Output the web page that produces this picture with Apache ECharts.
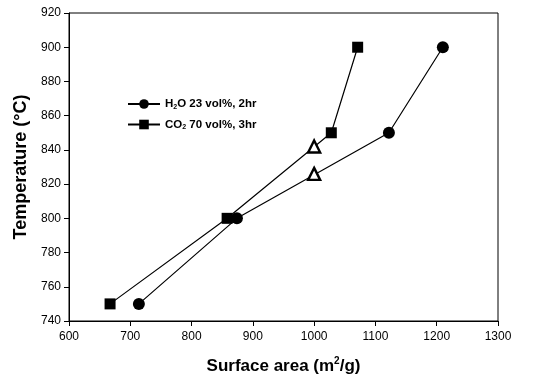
<!DOCTYPE html>
<html><head><meta charset="utf-8">
<script src="https://cdn.jsdelivr.net/npm/echarts@6/dist/echarts.min.js"></script>
<style>html,body{margin:0;padding:0;background:#fff}#c{width:547px;height:381px}</style>
</head><body><div id="c"></div>
<script>
const h2oX = [714, 874, 1122, 1210];
const h2oY = [750, 800, 850, 900];
const co2X = [667, 858, 1028, 1071];
const co2Y = [750, 800, 850, 900];
const triX = [1000, 1000];
const triY = [842, 826];
const xTicks = [600, 700, 800, 900, 1000, 1100, 1200, 1300];
const yTicks = [740, 760, 780, 800, 820, 840, 860, 880, 900, 920];

const FONT = '"Liberation Sans", Arial, sans-serif';
const chart = echarts.init(document.getElementById('c'));
const lineStyle = {color: '#000', width: 1.2};
chart.setOption({
  animation: false,
  backgroundColor: '#fff',
  grid: {left: 69, right: 49, top: 13, bottom: 60, show: true, borderColor: '#000', borderWidth: 1,
         containLabel: false, outerBoundsMode: 'none'},
  xAxis: {
    type: 'value', min: xTicks[0], max: xTicks[xTicks.length-1], interval: 100,
    name: '{b|Surface area (m}{sup|2}{b|/g)}', nameLocation: 'middle', nameGap: 35,
    nameTextStyle: {rich: {
      b: {fontFamily: FONT, fontWeight: 'bold', fontSize: 17, color: '#000', verticalAlign: 'bottom', lineHeight: 19},
      sup: {fontFamily: FONT, fontWeight: 'bold', fontSize: 10, color: '#000', verticalAlign: 'top', lineHeight: 19, padding: [0,0,7,0]}
    }},
    axisLine: {onZero: false, lineStyle: {color: '#000'}},
    axisTick: {inside: false, length: 5, lineStyle: {color: '#000'}},
    axisLabel: {fontFamily: FONT, fontSize: 12, color: '#000', margin: 10, formatter: v => String(v)},
    splitLine: {show: false}
  },
  yAxis: {
    type: 'value', min: yTicks[0], max: yTicks[yTicks.length-1], interval: 20,
    name: 'Temperature (°C)', nameLocation: 'middle', nameGap: 38, nameRotate: 90,
    nameTextStyle: {fontFamily: FONT, fontWeight: 'bold', fontSize: 18, color: '#000'},
    axisLine: {onZero: false, lineStyle: {color: '#000'}},
    axisTick: {inside: false, length: 5, lineStyle: {color: '#000'}},
    axisLabel: {fontFamily: FONT, fontSize: 12, color: '#000', margin: 8, formatter: v => String(v)},
    splitLine: {show: false}
  },
  legend: {
    left: 122, top: 93, orient: 'vertical', itemGap: 8, itemWidth: 32, itemHeight: 12,
    data: ['H2O', 'CO2'],
    formatter: function(n){
      return n === 'H2O' ? '{t|H}{s|2}{t|O 23 vol%, 2hr}' : '{t|CO}{s|2}{t| 70 vol%, 3hr}';
    },
    textStyle: {rich: {
      t: {fontFamily: FONT, fontWeight: 'bold', fontSize: 11.5, color: '#000'},
      s: {fontFamily: FONT, fontWeight: 'bold', fontSize: 7, color: '#000', padding: [6,0,0,0]}
    }}
  },
  series: [
    {name: 'H2O', type: 'line', data: h2oX.map((x,i)=>[x,h2oY[i]]), symbol: 'circle', symbolSize: 12,
     itemStyle: {color: '#000'}, lineStyle: lineStyle, z: 3},
    {name: 'CO2', type: 'line', data: co2X.map((x,i)=>[x,co2Y[i]]), symbol: 'rect', symbolSize: 11,
     itemStyle: {color: '#000'}, lineStyle: lineStyle, z: 3},
    {name: 'tri', type: 'scatter', data: triX.map((x,i)=>[x,triY[i]]), symbol: 'triangle', symbolSize: [12, 12],
     itemStyle: {color: '#fff', borderColor: '#000', borderWidth: 2.4, opacity: 1}, z: 4}
  ]
});
</script></body></html>
